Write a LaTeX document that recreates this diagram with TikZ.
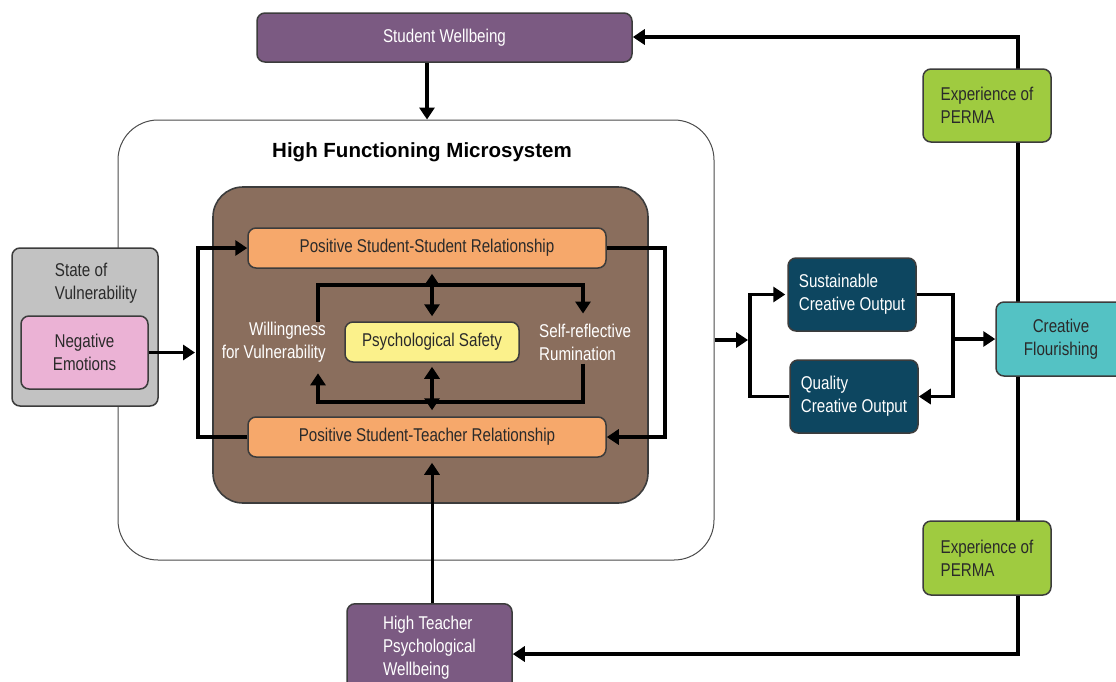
\documentclass[tikz,border=0pt]{standalone}
\usepackage{fontspec}
\setmainfont{Liberation Sans}[FakeStretch=0.82]
\newfontfamily\titlefont{Liberation Sans}
\usetikzlibrary{arrows.meta}
\definecolor{purp}{HTML}{7B5A82}
\definecolor{brn}{HTML}{8A6E5D}
\definecolor{orng}{HTML}{F6A86B}
\definecolor{yel}{HTML}{FBF18B}
\definecolor{gry}{HTML}{C2C2C2}
\definecolor{pnk}{HTML}{EBB2D5}
\definecolor{dteal}{HTML}{0D4660}
\definecolor{cyn}{HTML}{54C2C4}
\definecolor{lime}{HTML}{9FCB40}
\definecolor{bord}{HTML}{3C3C3C}
\definecolor{txt}{HTML}{2A2A2A}
\begin{document}
\begin{tikzpicture}[x=1pt,y=-1pt,
  font=\fontsize{18.5}{23}\selectfont,
  box/.style={draw=bord, line width=1.5pt, rounded corners=8pt, inner sep=0pt, align=center, text=txt},
  wire/.style={line width=3.8pt, draw=black},
  conn/.style={line width=3.8pt, draw=black, -{Triangle[length=12pt,width=15pt]}},
  dconn/.style={line width=3.8pt, draw=black, {Triangle[length=12pt,width=15pt]}-{Triangle[length=12pt,width=15pt]}},
  lbl/.style={inner sep=0pt, text=white}
]
\useasboundingbox (0,0) rectangle (1116,681);

% containers
\node[draw=gray!60!black, line width=1pt, rounded corners=40pt, fill=white,
      minimum width=596pt, minimum height=440pt, inner sep=0pt] (outer) at (416,340) {};
\node[inner sep=0pt, font=\titlefont\bfseries\fontsize{20.5}{24}\selectfont, text=black] (title) at (422,152) {High Functioning Microsystem};
\node[draw=bord, line width=1.6pt, rounded corners=30pt, fill=brn,
      minimum width=435pt, minimum height=316pt, inner sep=0pt] (brown) at (430.5,345) {};
\node[box, fill=gry, minimum width=146pt, minimum height=158pt] (sov) at (85,327) {};
\node[inner sep=0pt, align=left, text=txt] (sovt) at (96,283) {State of\\Vulnerability};

% big right loop line (behind boxes)
\coordinate (rt) at (1018,37);
\coordinate (rb) at (1018,654);
\draw[wire, line cap=rect] (rt) -- (rb);

% nodes
\node[box, fill=purp, text=white, minimum width=375pt, minimum height=49pt] (sw) at (444.5,37.5) {Student Wellbeing};
\node[box, fill=orng, minimum width=358pt, minimum height=40pt] (pssr) at (427,248) {Positive Student-Student Relationship};
\node[box, fill=orng, minimum width=358pt, minimum height=40pt] (pstr) at (427,437) {Positive Student-Teacher Relationship};
\node[box, fill=yel, minimum width=174pt, minimum height=40pt] (ps) at (432,342) {Psychological Safety};
\node[lbl, align=right, anchor=east] (willt) at (326,342) {Willingness\\for Vulnerability};
\node[lbl, align=left, anchor=west] (selft) at (539,342) {Self-reflective\\Rumination};
\node[box, fill=pnk, minimum width=127pt, minimum height=73pt] (neg) at (84.5,352.5) {Negative\\Emotions};
\node[box, fill=dteal, text=white, align=left, minimum width=128pt, minimum height=73pt] (sco) at (852,294.5) {Sustainable\\Creative Output};
\node[box, fill=dteal, text=white, align=left, minimum width=128pt, minimum height=73pt] (qco) at (854,396.5) {Quality\\Creative Output};
\node[box, fill=cyn, minimum width=130pt, minimum height=74pt] (cf) at (1061,339) {Creative\\Flourishing};
\node[box, fill=lime, align=left, minimum width=128pt, minimum height=73pt] (perma1) at (987,105.5) {Experience of\\PERMA};
\node[box, fill=lime, align=left, minimum width=128pt, minimum height=74pt] (perma2) at (987,558) {Experience of\\PERMA};
\node[box, fill=purp, text=white, align=left, anchor=north, minimum width=165pt, minimum height=88pt] (htpw) at (429.5,603) {High Teacher\\Psychological\\Wellbeing};

% connectors
\draw[conn] (sw.south -| pssr.north) -- (pssr.north |- outer.north);

\coordinate (tl) at (318,285);
\coordinate (tr) at (583,285);
\coordinate (bl) at (318,402);
\coordinate (br) at (583,402);
\draw[conn, shorten >=10pt] (tl |- willt.north) -- (tl) -- (tr) -- (tr |- selft.north);
\draw[conn, shorten >=11pt, shorten <=3pt] (br |- selft.south) -- (br) -- (bl) -- (bl |- willt.south);
\draw[dconn, shorten >=5pt, shorten <=5pt] (ps.north |- pssr.south) -- (ps.north);
\draw[dconn, shorten >=6pt, shorten <=4pt] (ps.south) -- (ps.south |- pstr.north);

\coordinate (rl) at (665,340);
\coordinate (ll) at (198,340);
\draw[conn] (pssr.east) -- (pssr.east -| rl) -- (pstr.east -| rl) -- (pstr.east);
\draw[conn] (pstr.west) -- (pstr.west -| ll) -- (pssr.west -| ll) -- (pssr.west);
\draw[conn, shorten >=3pt] (neg.east) -- (neg.east -| ll);

\draw[conn, line width=3pt, shorten >=5pt] (htpw.north -| ps.south) -- (ps.south |- pstr.south);

\coordinate (jl) at (750,344);
\coordinate (jr) at (953,339);
\draw[conn, shorten >=1.9pt] (outer.east) -- (outer.east -| jl);
\draw[conn, shorten >=2pt] (qco.west) -- (qco.west -| jl) -- (sco.west -| jl) -- (sco.west);
\draw[conn] (sco.east) -- (sco.east -| jr) -- (qco.east -| jr) -- (qco.east);
\draw[conn] (cf.west -| jr) -- (cf.west);

\draw[conn] (rt) -- (rt -| sw.east);
\draw[conn] (rb) -- (rb -| htpw.east);
\end{tikzpicture}
\end{document}
